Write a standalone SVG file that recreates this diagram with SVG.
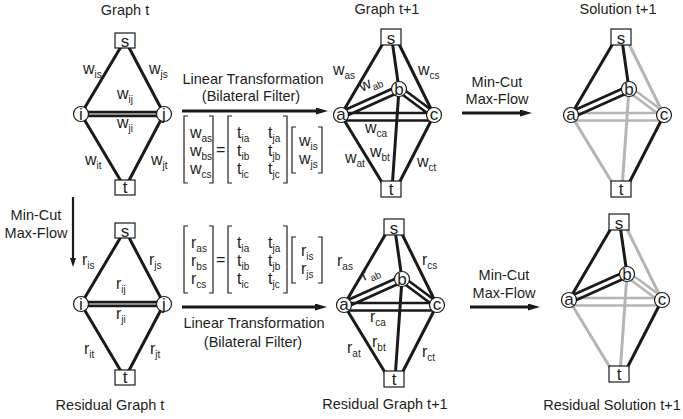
<svg xmlns="http://www.w3.org/2000/svg" width="683" height="419" viewBox="0 0 683 419">
<defs>
<style>
text{font-family:"Liberation Sans",Arial,sans-serif;fill:#231f20}
.t{font-size:14.5px;text-anchor:middle}
.m{font-size:16px}
.sb{font-size:10px}
.n{font-size:17px;text-anchor:middle}
.e{stroke:#1a1a1a;stroke-width:3;fill:none}
.g{stroke:#b5b5b5;stroke-width:3;fill:none}
.d{stroke:#1a1a1a;stroke-width:2.7;fill:none}
.box{fill:#fff;stroke:#1a1a1a;stroke-width:1.2}
.br{fill:none;stroke:#231f20;stroke-width:1.2}
.arr{stroke:#1a1a1a;stroke-width:3;fill:none;marker-end:url(#ah)}
.arrv{stroke:#1a1a1a;stroke-width:2.2;fill:none;marker-end:url(#ahs)}
</style>
<marker id="ah" markerUnits="userSpaceOnUse" markerWidth="12" markerHeight="7" refX="2" refY="3.5" orient="auto"><path d="M0,0 L12,3.5 L0,7 z" fill="#1a1a1a"/></marker>
<marker id="ahs" markerUnits="userSpaceOnUse" markerWidth="9" markerHeight="6" refX="1" refY="3" orient="auto"><path d="M0,0 L9,3 L0,6 z" fill="#1a1a1a"/></marker>
</defs>
<rect width="683" height="419" fill="#fff"/>

<!-- titles -->
<g id="titles">
<text class="t" x="125" y="15">Graph t</text>
<text class="t" x="387" y="14">Graph t+1</text>
<text class="t" x="618" y="14">Solution t+1</text>
<text class="t" x="110" y="410">Residual Graph t</text>
<text class="t" x="385" y="409">Residual Graph t+1</text>
<text class="t" x="612" y="410">Residual Solution t+1</text>
</g>

<!-- process arrows -->
<g id="connectors-process">
<path class="arr" d="M182 111 H318"/>
<path class="arr" d="M182 307 H317"/>
<path class="arr" d="M462 113 H522"/>
<path class="arr" d="M470 307 H530"/>
<path class="arrv" d="M73 197 V259"/>
</g>
<g id="process-labels">
<text class="t" x="253" y="84">Linear Transformation</text>
<text class="t" x="251" y="101">(Bilateral Filter)</text>
<text class="t" x="254" y="328">Linear Transformation</text>
<text class="t" x="253" y="347">(Bilateral Filter)</text>
<text class="t" x="497" y="87">Min-Cut</text>
<text class="t" x="497" y="104">Max-Flow</text>
<text class="t" x="504" y="280">Min-Cut</text>
<text class="t" x="504" y="298">Max-Flow</text>
<text class="t" x="36" y="220">Min-Cut</text>
<text class="t" x="36" y="238">Max-Flow</text>
</g>

<!-- matrices -->
<g id="matrix-w">
<path class="br" d="M188 116 H184 V183 H188 M209 116 H213 V183 H209 M232 116 H228 V183 H232 M283 116 H287 V183 H283 M296 127 H292 V173 H296 M318 127 H322 V173 H318"/>
<text class="m" x="190" y="138">w<tspan class="sb" dy="4">as</tspan></text>
<text class="m" x="190" y="156">w<tspan class="sb" dy="4">bs</tspan></text>
<text class="m" x="190" y="174">w<tspan class="sb" dy="4">cs</tspan></text>
<text class="m" x="216" y="155">=</text>
<text class="m" x="237" y="138">t<tspan class="sb" dy="4">ia</tspan></text>
<text class="m" x="237" y="156">t<tspan class="sb" dy="4">ib</tspan></text>
<text class="m" x="237" y="174">t<tspan class="sb" dy="4">ic</tspan></text>
<text class="m" x="268" y="138">t<tspan class="sb" dy="4">ja</tspan></text>
<text class="m" x="268" y="156">t<tspan class="sb" dy="4">jb</tspan></text>
<text class="m" x="268" y="174">t<tspan class="sb" dy="4">jc</tspan></text>
<text class="m" x="299" y="146">w<tspan class="sb" dy="4">is</tspan></text>
<text class="m" x="299" y="164">w<tspan class="sb" dy="4">js</tspan></text>
</g>
<g id="matrix-r" transform="translate(0 110)">
<path class="br" d="M188 116 H184 V183 H188 M209 116 H213 V183 H209 M232 116 H228 V183 H232 M283 116 H287 V183 H283 M296 127 H292 V173 H296 M318 127 H322 V173 H318"/>
<text class="m" x="191" y="138">r<tspan class="sb" dy="4">as</tspan></text>
<text class="m" x="191" y="156">r<tspan class="sb" dy="4">bs</tspan></text>
<text class="m" x="191" y="174">r<tspan class="sb" dy="4">cs</tspan></text>
<text class="m" x="216" y="155">=</text>
<text class="m" x="237" y="138">t<tspan class="sb" dy="4">ia</tspan></text>
<text class="m" x="237" y="156">t<tspan class="sb" dy="4">ib</tspan></text>
<text class="m" x="237" y="174">t<tspan class="sb" dy="4">ic</tspan></text>
<text class="m" x="268" y="138">t<tspan class="sb" dy="4">ja</tspan></text>
<text class="m" x="268" y="156">t<tspan class="sb" dy="4">jb</tspan></text>
<text class="m" x="268" y="174">t<tspan class="sb" dy="4">jc</tspan></text>
<text class="m" x="301" y="146">r<tspan class="sb" dy="4">is</tspan></text>
<text class="m" x="301" y="164">r<tspan class="sb" dy="4">js</tspan></text>
</g>

<!-- Graph t -->
<g id="graph-t">
<g id="graph-t-connectors">
<path class="e" d="M125 40 L81 114 M125 40 L164 114 M81 114 L125 188 M164 114 L125 188"/>
<path class="d" d="M81 112.1 H164 M81 115.9 H164"/>
</g>
<g id="gt-s"><rect class="box" x="115" y="33" width="20" height="15"/><text class="n" x="125" y="46.5">s</text></g>
<g id="gt-i"><circle class="box" cx="81" cy="114" r="7.5"/><text class="n" x="81" y="119.5">i</text></g>
<g id="gt-j"><circle class="box" cx="164" cy="114" r="7.5"/><text class="n" x="164" y="119.5">j</text></g>
<g id="gt-t"><rect class="box" x="115" y="180" width="20" height="15"/><text class="n" x="125" y="193">t</text></g>
<g id="gt-labels">
<text class="m" x="83" y="74">w<tspan class="sb" dy="4">is</tspan></text>
<text class="m" x="149" y="74">w<tspan class="sb" dy="4">js</tspan></text>
<text class="m" x="117" y="99">w<tspan class="sb" dy="4">ij</tspan></text>
<text class="m" x="117" y="128">w<tspan class="sb" dy="4">ji</tspan></text>
<text class="m" x="85" y="165">w<tspan class="sb" dy="4">it</tspan></text>
<text class="m" x="151" y="165">w<tspan class="sb" dy="4">jt</tspan></text>
</g>
</g>

<!-- Residual Graph t -->
<g id="rgraph-t" transform="translate(0 190)">
<g id="rgraph-t-connectors">
<path class="e" d="M125 40 L81 114 M125 40 L164 114 M81 114 L125 188 M164 114 L125 188"/>
<path class="d" d="M81 112.1 H164 M81 115.9 H164"/>
</g>
<g id="rgt-s"><rect class="box" x="115" y="33" width="20" height="15"/><text class="n" x="125" y="46.5">s</text></g>
<g id="rgt-i"><circle class="box" cx="81" cy="114" r="7.5"/><text class="n" x="81" y="119.5">i</text></g>
<g id="rgt-j"><circle class="box" cx="164" cy="114" r="7.5"/><text class="n" x="164" y="119.5">j</text></g>
<g id="rgt-t"><rect class="box" x="115" y="180" width="20" height="15"/><text class="n" x="125" y="193">t</text></g>
<g id="rgt-labels">
<text class="m" x="82" y="75">r<tspan class="sb" dy="4">is</tspan></text>
<text class="m" x="149" y="75">r<tspan class="sb" dy="4">js</tspan></text>
<text class="m" x="116" y="99">r<tspan class="sb" dy="4">ij</tspan></text>
<text class="m" x="116" y="129">r<tspan class="sb" dy="4">ji</tspan></text>
<text class="m" x="84" y="164">r<tspan class="sb" dy="4">it</tspan></text>
<text class="m" x="150" y="164">r<tspan class="sb" dy="4">jt</tspan></text>
</g>
</g>

<!-- Graph t+1 -->
<g id="graph-t1">
<g id="graph-t1-connectors">
<path class="e" d="M385 40 L341 115 M392 40 L399 89 M397 40 L434 115 M399 89 L392 189 M341 115 L386 189 M434 115 L396 189"/>
<path class="d" d="M339.8 112.3 L397.8 86.3 M342.2 117.7 L400.2 91.7 M400.5 87 L435.5 113 M397.5 91 L432.5 117 M341 113 H434 M343 120.5 H432"/>
</g>
<g id="g1-s"><rect class="box" x="381" y="29" width="20" height="16"/><text class="n" x="391" y="43.5">s</text></g>
<g id="g1-a"><circle class="box" cx="341" cy="115" r="7.5"/><text class="n" x="341" y="120">a</text></g>
<g id="g1-b"><circle class="box" cx="399" cy="89" r="7.5"/><text class="n" x="399" y="94.5">b</text></g>
<g id="g1-c"><circle class="box" cx="434" cy="115" r="7.5"/><text class="n" x="434" y="120">c</text></g>
<g id="g1-t"><rect class="box" x="381" y="181" width="20" height="16"/><text class="n" x="391" y="195">t</text></g>
<g id="g1-labels">
<text class="m" x="333" y="75">w<tspan class="sb" dy="4">as</tspan></text>
<text class="m" transform="translate(362 92) rotate(-25)">w<tspan class="sb" dy="4">ab</tspan></text>
<text class="m" x="418" y="75">w<tspan class="sb" dy="4">cs</tspan></text>
<text class="m" x="365" y="132.5">w<tspan class="sb" dy="4">ca</tspan></text>
<text class="m" x="370" y="157">w<tspan class="sb" dy="4">bt</tspan></text>
<text class="m" x="345" y="163">w<tspan class="sb" dy="4">at</tspan></text>
<text class="m" x="417" y="167">w<tspan class="sb" dy="4">ct</tspan></text>
</g>
</g>

<!-- Residual Graph t+1 -->
<g id="rgraph-t1" transform="translate(3 190)">
<g id="rgraph-t1-connectors">
<path class="e" d="M385 40 L341 115 M392 40 L399 89 M397 40 L434 115 M399 89 L392 189 M341 115 L386 189 M434 115 L396 189"/>
<path class="d" d="M339.8 112.3 L397.8 86.3 M342.2 117.7 L400.2 91.7 M400.5 87 L435.5 113 M397.5 91 L432.5 117 M341 113 H434 M343 120.5 H432"/>
</g>
<g id="rg1-s"><rect class="box" x="381" y="29" width="20" height="16"/><text class="n" x="391" y="43.5">s</text></g>
<g id="rg1-a"><circle class="box" cx="341" cy="115" r="7.5"/><text class="n" x="341" y="120">a</text></g>
<g id="rg1-b"><circle class="box" cx="399" cy="89" r="7.5"/><text class="n" x="399" y="94.5">b</text></g>
<g id="rg1-c"><circle class="box" cx="434" cy="115" r="7.5"/><text class="n" x="434" y="120">c</text></g>
<g id="rg1-t"><rect class="box" x="381" y="181" width="20" height="16"/><text class="n" x="391" y="195">t</text></g>
<g id="rg1-labels">
<text class="m" x="334" y="76">r<tspan class="sb" dy="4">as</tspan></text>
<text class="m" transform="translate(361 91) rotate(-25)">r<tspan class="sb" dx="1.5" dy="4">ab</tspan></text>
<text class="m" x="419" y="75">r<tspan class="sb" dy="4">cs</tspan></text>
<text class="m" x="367" y="132">r<tspan class="sb" dy="4">ca</tspan></text>
<text class="m" x="369" y="157">r<tspan class="sb" dy="4">bt</tspan></text>
<text class="m" x="344" y="163">r<tspan class="sb" dy="4">at</tspan></text>
<text class="m" x="419" y="167">r<tspan class="sb" dy="4">ct</tspan></text>
</g>
</g>

<!-- Solution t+1 -->
<g id="solution-t1" transform="translate(230 0)">
<g id="solution-t1-connectors">
<path class="g" d="M397 40 L434 115 M399 89 L392 189 M341 115 L386 189"/>
<path class="g" style="stroke-width:2.7" d="M400.5 87 L435.5 113 M397.5 91 L432.5 117 M341 113 H434 M343 120.5 H432"/>
<path class="e" d="M385 40 L341 115 M392 40 L399 89 M434 115 L396 189"/>
<path class="d" d="M339.8 112.3 L397.8 86.3 M342.2 117.7 L400.2 91.7"/>
</g>
<g id="s1-s"><rect class="box" x="381" y="29" width="20" height="16"/><text class="n" x="391" y="43.5">s</text></g>
<g id="s1-a"><circle class="box" cx="341" cy="115" r="7.5"/><text class="n" x="341" y="120">a</text></g>
<g id="s1-b"><circle class="box" cx="399" cy="89" r="7.5"/><text class="n" x="399" y="94.5">b</text></g>
<g id="s1-c"><circle class="box" cx="434" cy="115" r="7.5"/><text class="n" x="434" y="120">c</text></g>
<g id="s1-t"><rect class="box" x="381" y="181" width="20" height="16"/><text class="n" x="391" y="195">t</text></g>
</g>

<!-- Residual Solution t+1 -->
<g id="rsolution-t1" transform="translate(228 185)">
<g id="rsolution-t1-connectors">
<path class="g" d="M397 40 L434 115 M399 89 L392 189 M341 115 L386 189"/>
<path class="g" style="stroke-width:2.7" d="M400.5 87 L435.5 113 M397.5 91 L432.5 117 M341 113 H434 M343 120.5 H432"/>
<path class="e" d="M385 40 L341 115 M392 40 L399 89 M434 115 L396 189"/>
<path class="d" d="M339.8 112.3 L397.8 86.3 M342.2 117.7 L400.2 91.7"/>
</g>
<g id="rs1-s"><rect class="box" x="381" y="29" width="20" height="16"/><text class="n" x="391" y="43.5">s</text></g>
<g id="rs1-a"><circle class="box" cx="341" cy="115" r="7.5"/><text class="n" x="341" y="120">a</text></g>
<g id="rs1-b"><circle class="box" cx="399" cy="89" r="7.5"/><text class="n" x="399" y="94.5">b</text></g>
<g id="rs1-c"><circle class="box" cx="434" cy="115" r="7.5"/><text class="n" x="434" y="120">c</text></g>
<g id="rs1-t"><rect class="box" x="381" y="181" width="20" height="16"/><text class="n" x="391" y="195">t</text></g>
</g>
</svg>
